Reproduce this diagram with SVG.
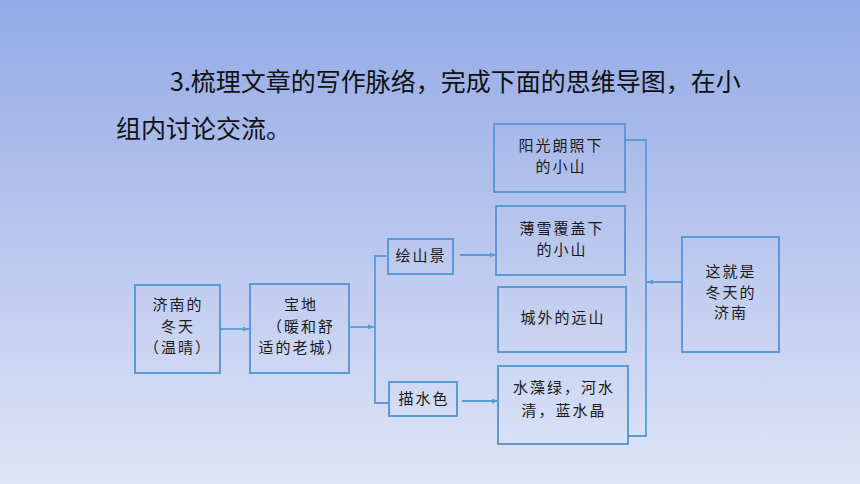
<svg xmlns="http://www.w3.org/2000/svg" width="860" height="484" viewBox="0 0 860 484">
<defs>
<linearGradient id="bg" x1="0" y1="0" x2="0" y2="1">
<stop offset="0" stop-color="#92aae6"/>
<stop offset="0.5" stop-color="#bac7ee"/>
<stop offset="1" stop-color="#dfe5f7"/>
</linearGradient>
<marker id="arr" viewBox="0 0 10 10" refX="10" refY="5" markerWidth="6" markerHeight="6" markerUnits="userSpaceOnUse" orient="auto">
<path d="M0,1 L10,5 L0,9 z" fill="#5b9bd5"/>
</marker>
<style>
.box{fill:none;stroke:#5b9bd5;stroke-width:2}
.con{fill:none;stroke:#5b9bd5;stroke-width:1.8}
.t{font-family:"Noto Sans CJK SC","Noto Sans",sans-serif;font-size:15px;fill:#1a1a1a;text-anchor:middle;letter-spacing:2px}
.title{font-family:"Noto Sans CJK SC","Noto Sans",sans-serif;font-size:25px;fill:#111111}
</style>
</defs>
<rect x="0" y="0" width="860" height="484" fill="url(#bg)"/>
<text class="title" x="170" y="91">3.梳理文章的写作脉络，完成下面的思维导图，在小</text>
<text class="title" x="116" y="138">组内讨论交流。</text>

<g id="connectors">
<line class="con" x1="220" y1="329" x2="249" y2="329" marker-end="url(#arr)"/>
<line class="con" x1="349" y1="327" x2="374" y2="327" marker-end="url(#arr)"/>
<polyline class="con" points="388,256 375,256 375,403 389,403"/>
<line class="con" x1="460" y1="255" x2="496" y2="255" marker-end="url(#arr)"/>
<line class="con" x1="462" y1="401" x2="498" y2="401" marker-end="url(#arr)"/>
<polyline class="con" points="625,140 646,140 646,436 628,436"/>
<line class="con" x1="682" y1="282" x2="647" y2="282" marker-end="url(#arr)"/>
</g>

<g id="n-jinan">
<rect class="box" x="135" y="285" width="85" height="88"/>
<text class="t" x="178" y="310">济南的</text>
<text class="t" x="178" y="332">冬天</text>
<text class="t" x="178" y="353">（温晴）</text>
</g>
<g id="n-baodi">
<rect class="box" x="250" y="284" width="99" height="89"/>
<text class="t" x="301" y="310">宝地</text>
<text class="t" x="301" y="332">（暖和舒</text>
<text class="t" x="301" y="353">适的老城）</text>
</g>
<g id="n-shanjing">
<rect class="box" x="388" y="239" width="65" height="35"/>
<text class="t" x="421" y="261">绘山景</text>
</g>
<g id="n-shuise">
<rect class="box" x="389" y="382" width="68" height="34"/>
<text class="t" x="424" y="404">描水色</text>
</g>
<g id="n-yangguang">
<rect class="box" x="494" y="124" width="131" height="68"/>
<text class="t" x="561" y="151">阳光朗照下</text>
<text class="t" x="561" y="172">的小山</text>
</g>
<g id="n-boxue">
<rect class="box" x="496" y="206" width="129" height="69"/>
<text class="t" x="562" y="234">薄雪覆盖下</text>
<text class="t" x="562" y="255">的小山</text>
</g>
<g id="n-yuanshan">
<rect class="box" x="498" y="287" width="128" height="65"/>
<text class="t" x="563" y="323">城外的远山</text>
</g>
<g id="n-shuizao">
<rect class="box" x="498" y="366" width="130" height="78"/>
<text class="t" x="564" y="393">水藻绿，河水</text>
<text class="t" x="564" y="416">清，蓝水晶</text>
</g>
<g id="n-zhejiushi">
<rect class="box" x="682" y="237" width="97" height="115"/>
<text class="t" x="731" y="277">这就是</text>
<text class="t" x="731" y="298">冬天的</text>
<text class="t" x="731" y="318">济南</text>
</g>
</svg>
